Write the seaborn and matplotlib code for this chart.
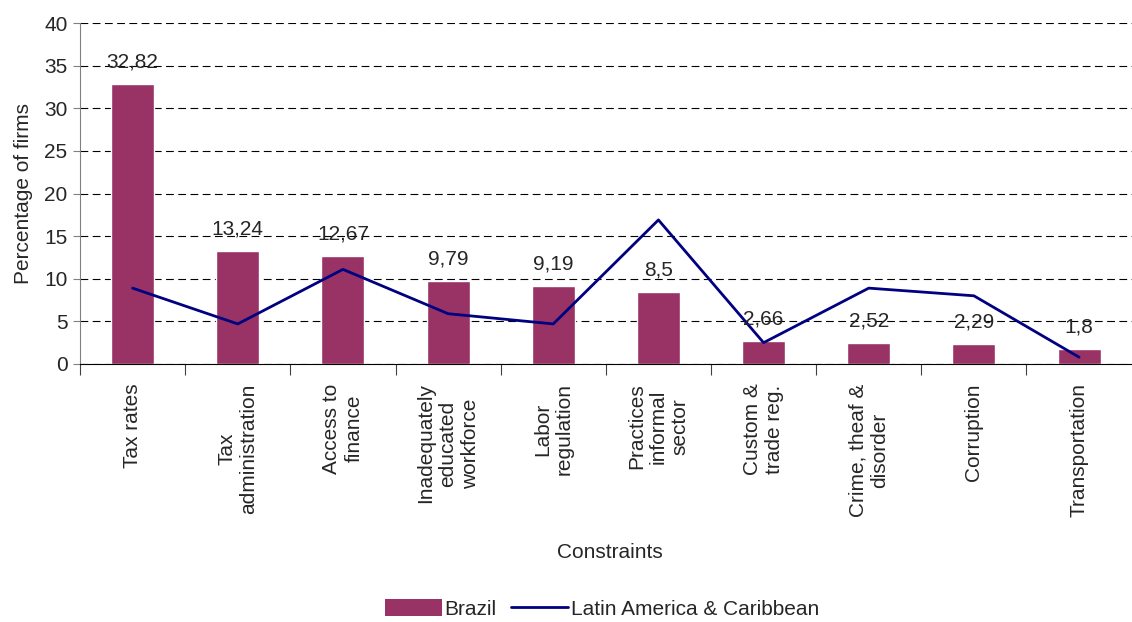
import numpy as np
import pandas as pd
import matplotlib
matplotlib.use("Agg")
import matplotlib.pyplot as plt
import seaborn as sns
from matplotlib.patches import Patch
from matplotlib.lines import Line2D

categories = ["Tax rates", "Tax\nadministration", "Access to\nfinance",
              "Inadequately\neducated\nworkforce", "Labor\nregulation",
              "Practices\ninformal\nsector", "Custom &\ntrade reg.",
              "Crime, theaf &\ndisorder", "Corruption", "Transportation"]
brazil = [32.82, 13.24, 12.67, 9.79, 9.19, 8.5, 2.66, 2.52, 2.29, 1.8]
brazil_labels = ["32,82", "13,24", "12,67", "9,79", "9,19", "8,5", "2,66", "2,52", "2,29", "1,8"]
latam = [8.9, 4.7, 11.1, 5.9, 4.7, 16.9, 2.5, 8.9, 8.0, 0.8]

sns.set_style("white")
plt.rcParams['font.family'] = ['Liberation Sans', 'DejaVu Sans']

df = pd.DataFrame({"cat": categories, "brazil": brazil, "latam": latam})

fig = plt.figure(figsize=(11.32, 6.22), dpi=100)
ax = fig.add_axes([0.0707, 0.4148, 0.929, 0.5482])

sns.barplot(data=df, x="cat", y="brazil", color="#993366", width=0.41,
            saturation=1, ax=ax, zorder=2)
sns.lineplot(x=np.arange(len(latam)), y=latam, color="#000080", linewidth=2,
             ax=ax, zorder=3)

for i, (v, t) in enumerate(zip(brazil, brazil_labels)):
    ax.annotate(t, (i, v), xytext=(0, 9), textcoords="offset points",
                ha="center", va="bottom", fontsize=15, zorder=4)

ax.set_ylim(0, 40)
ax.set_xlim(-0.5, len(categories) - 0.5)
ax.set_yticks(range(0, 41, 5))
ax.tick_params(axis="y", labelsize=15, length=5, direction="out", left=True,
               color="#808080", pad=4)
ax.yaxis.grid(True, linestyle=(0, (7, 4)), color="black", linewidth=0.8)
ax.set_axisbelow(True)

# category labels below, ticks at boundaries
ax.set_xticks(np.arange(len(categories)) - 0.5)
ax.set_xticklabels([])
ax.tick_params(axis="x", length=8, direction="out", bottom=True, color="#404040")
for i, c in enumerate(categories):
    ax.annotate(c, (i, 0), xytext=(0, -14), textcoords="offset points",
                rotation=90, ha="center", va="top", fontsize=15,
                multialignment="center")

ax.set_xlabel("")
fig.text(0.539, 0.111, "Constraints", ha="center", va="center", fontsize=15)
ax.set_ylabel("Percentage of firms", fontsize=15, labelpad=8)

for s in ["top", "right"]:
    ax.spines[s].set_visible(False)
ax.spines["left"].set_color("#808080")
ax.spines["bottom"].set_color("black")

handles = [Patch(facecolor="#993366", edgecolor="none", label="Brazil"),
           Line2D([0], [0], color="#000080", linewidth=2, label="Latin America & Caribbean")]
fig.legend(handles=handles, loc="center", bbox_to_anchor=(0.532, 0.021), ncol=2,
           frameon=False, fontsize=15, handlelength=2.7, handleheight=0.85,
           handletextpad=0.15, columnspacing=0.7, borderpad=0.1)

fig.savefig("out.png", dpi=100)
